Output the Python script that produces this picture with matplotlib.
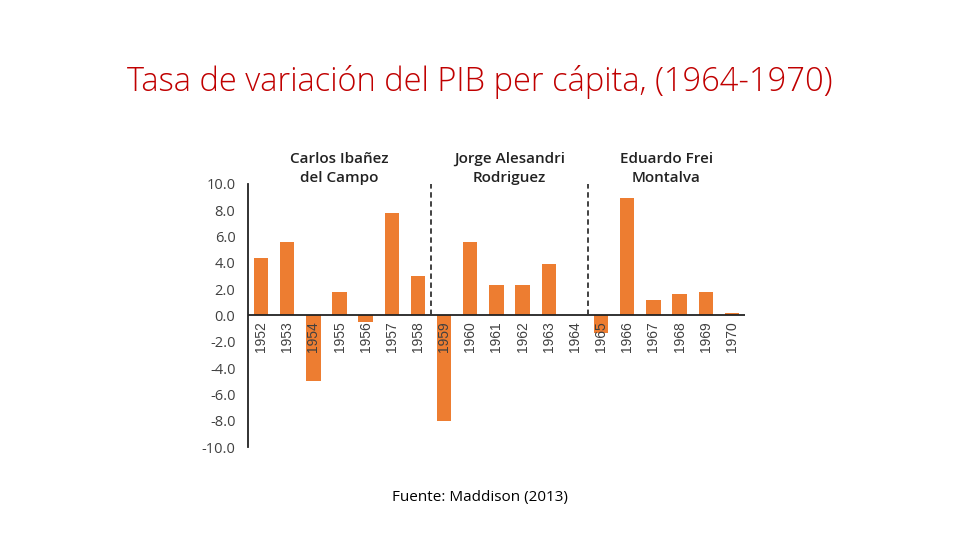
import matplotlib
matplotlib.use("Agg")
import matplotlib.pyplot as plt

years = ["1952", "1953", "1954", "1955", "1956", "1957", "1958", "1959", "1960", "1961",
         "1962", "1963", "1964", "1965", "1966", "1967", "1968", "1969", "1970"]
growth = [4.4, 5.6, -5.0, 1.8, -0.5, 7.8, 3.0, -8.0, 5.6, 2.3,
          2.3, 3.9, 0.0, -1.3, 8.9, 1.2, 1.6, 1.8, 0.2]
y_ticks = [10.0, 8.0, 6.0, 4.0, 2.0, 0.0, -2.0, -4.0, -6.0, -8.0, -10.0]
presidents = ["Carlos Ibañez\ndel Campo", "Jorge Alesandri\nRodriguez", "Eduardo Frei\nMontalva"]
period_bounds = [(0, 6), (7, 12), (13, 18)]
title = "Tasa de variación del PIB per cápita, (1964-1970)"
source = "Fuente: Maddison (2013)"

fig = plt.figure(figsize=(9.6, 5.4), dpi=100)
fig.patch.set_facecolor("white")
ax = fig.add_axes([0.2583, 0.1722, 0.5177, 0.4871])

x = list(range(len(years)))
ax.bar(x, growth, width=0.55, color="#ED7D31", zorder=2)
ax.set_xlim(-0.5, len(years) - 0.5)
ax.set_ylim(-10, 10)
ax.set_yticks(y_ticks)
ax.set_yticklabels([f"{v:.1f}" for v in y_ticks], fontsize=10.5, color="#404040",
                   family="Open Sans", fontweight="medium")
ax.tick_params(axis="y", length=0, pad=9)
ax.set_xticks([])
for s in ["top", "right", "bottom"]:
    ax.spines[s].set_visible(False)
ax.spines["left"].set_color("#222222")
ax.spines["left"].set_linewidth(1.3)
ax.axhline(0, color="#222222", lw=1.3, zorder=3)

for xi, lab in zip(x, years):
    ax.text(xi, -0.45, lab, rotation=90, ha="center", va="top", fontsize=10,
            color="#404040", family="Liberation Sans", zorder=4)

# dashed separators
for (a, b), (c, d) in zip(period_bounds[:-1], period_bounds[1:]):
    sep = (b + c) / 2
    ax.plot([sep, sep], [0, 10], ls=(0, (3, 2)), color="#333333", lw=1.3, zorder=3)

for (a, b), name in zip(period_bounds, presidents):
    ax.text((a + b) / 2, 9.95, name, ha="center", va="bottom", fontsize=11,
            color="#222222", family="Open Sans", fontweight="semibold",
            linespacing=1.4, clip_on=False)

fig.text(0.5, 0.848, title, ha="center", va="center", fontsize=23.5,
         color="#C00000", family="Open Sans", fontweight="light")
fig.text(0.5, 0.078, source, ha="center", va="center", fontsize=11,
         color="black", family="Open Sans")

fig.savefig("out.png", dpi=100, facecolor="white")
